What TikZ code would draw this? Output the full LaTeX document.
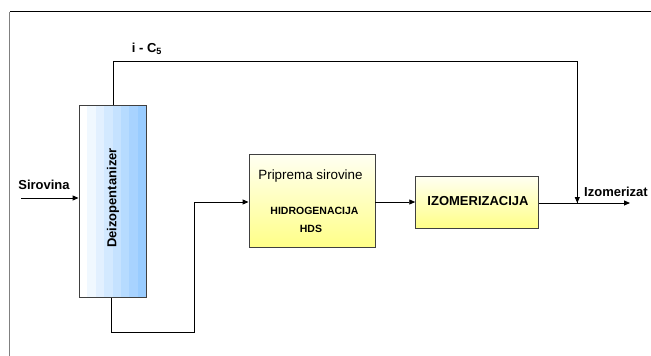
\documentclass[tikz,border=0pt]{standalone}
\usepackage{fontspec}
\setmainfont{Liberation Sans}
\usetikzlibrary{arrows.meta}
\definecolor{colblue}{HTML}{99CCFF}
\definecolor{boxline}{HTML}{404040}
\definecolor{ylight}{HTML}{FFFFF2}
\definecolor{ydark}{HTML}{FFFF88}
\tikzset{
  flow/.style={line width=0.9pt, draw=black},
  arr/.style={flow, -{Triangle[length=6pt,width=5pt]}},
  ybox/.style={draw=boxline, line width=0.9pt, top color=ylight, bottom color=ydark, minimum width=#1, inner sep=0pt},
  lbl/.style={font=\fontsize{13pt}{15pt}\selectfont\bfseries, inner sep=0pt},
  small/.style={font=\fontsize{10.5pt}{12pt}\selectfont\bfseries, inner sep=0pt},
  plain/.style={font=\fontsize{13.4pt}{15pt}\selectfont, inner sep=0pt}
}
\begin{document}
\begin{tikzpicture}[x=1pt,y=-1pt]
\useasboundingbox (0,0) rectangle (651,356);
% frame
\draw[line width=0.9pt, draw=black] (651,11.7) -- (9.5,11.7);
\draw[line width=0.9pt, draw=gray] (9.5,11.7) -- (9.5,356);
% column
\foreach \i in {0,...,7}{
  \pgfmathsetmacro{\pc}{100*\i/7}
  \fill[colblue!\pc!white] (79+\i*8.375,105.7) rectangle (79+\i*8.375+8.375,297.7);
}
\node[draw=boxline, line width=0.9pt, minimum width=67pt, minimum height=192pt, inner sep=0pt] (col) at (112.5,201.7) {};
\node[lbl, rotate=90] (coltxt) at (113,198) {Deizopentanizer};
% boxes
\node[ybox=126pt, minimum height=93pt] (prip) at (312,200.7) {};
\node[plain] (priptxt) at (310.5,176) {Priprema sirovine};
\node[small] (hydro) at (314.5,211) {HIDROGENACIJA};
\node[small] (hds) at (311,229) {HDS};
\node[ybox=123pt, minimum height=52pt] (izo) at (477.2,202) {};
\node[lbl] (izotxt) at (478,201.5) {IZOMERIZACIJA};
% labels
\node[lbl] (sir) at (44,185) {Sirovina};
\node[lbl] (ic5) at (147,49) {i - C\textsubscript{5}};
\node[lbl, anchor=west] (izomerizat) at (584,192) {Izomerizat};
% coordinates
\coordinate (in) at (21,198);
\coordinate (top) at (113.3,61.7);
\coordinate (bot) at (111,332);
\coordinate (riser) at (194,202);
\coordinate (junc) at (577.3,203);
\coordinate (out) at (630,203);
% connectors
\draw[arr] (in) -- (in -| col.west);
\draw[flow] (col.north -| top) -- (top) -| (junc);
\draw[arr] (top -| junc) -- (junc);
\draw[flow] (col.south -| bot) -- (bot) -| (riser);
\draw[arr] (riser) -- (riser -| prip.west);
\draw[arr] (prip.east |- izo.west) -- (izo.west);
\draw[arr] (izo.east |- out) -- (out);
\end{tikzpicture}
\end{document}
